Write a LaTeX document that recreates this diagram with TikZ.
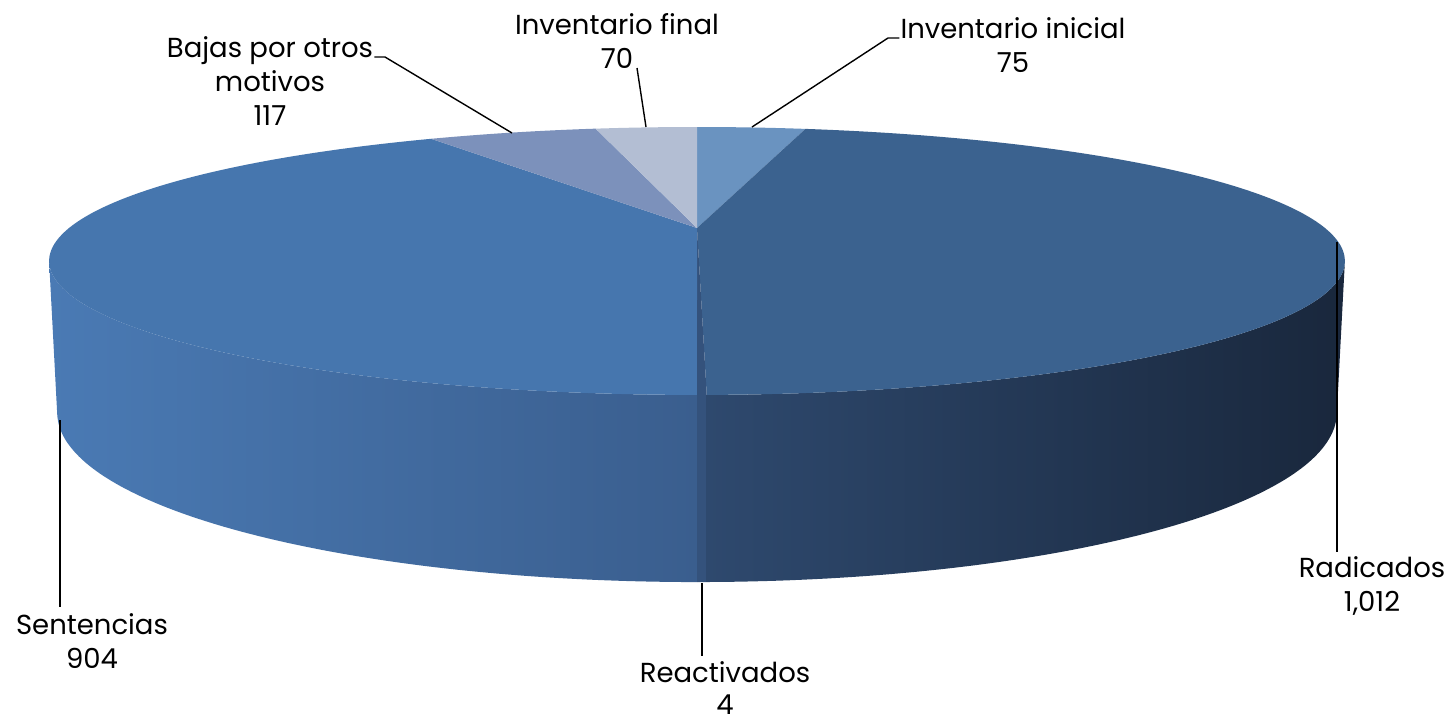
\documentclass[tikz,border=0pt]{standalone}
\usepackage{fontspec}
\setmainfont{Poppins}
\definecolor{cIni}{HTML}{6A93C0}
\definecolor{cRad}{HTML}{3B628F}
\definecolor{cSen}{HTML}{4676AE}
\definecolor{cBaj}{HTML}{7C91BB}
\definecolor{cFin}{HTML}{B3BED3}
\definecolor{cRadL}{HTML}{2E496E}
\definecolor{cRadR}{HTML}{19273C}
\definecolor{cSenL}{HTML}{4A7AB4}
\definecolor{cSenR}{HTML}{3A5E8E}
\definecolor{cRea}{HTML}{34527C}
\begin{document}
\begin{tikzpicture}[x=1pt,y=-1pt,
  declare function={
    tz(\a)=1+0.2460*sin(\a);
    bz(\a)=1.01188+0.2460*sin(\a);
    tx(\a)=697+628*cos(\a)/tz(\a);
    ty(\a)=228-125.85*sin(\a)/tz(\a);
    bx(\a)=697+628*cos(\a)/bz(\a);
    by(\a)=228+(145.3-125.85*sin(\a))/bz(\a);
  },
  lbl/.style={font=\fontsize{27.5}{34}\selectfont, align=center, anchor=base, inner sep=1pt, text=black},
  leader/.style={draw=black, line width=1.4pt}]
\useasboundingbox (0,0) rectangle (1455,724);
\fill[white] (0,0) rectangle (1455,724);
\coordinate (C) at (697,228);
% sides
\shade[left color=cSenL, right color=cSenR]
  plot[domain=-165.15:-90, samples=80, variable=\t] ({tx(\t)},{ty(\t)})
  -- plot[domain=-165.15:-90, samples=80, variable=\t] ({bx(-255.15-\t)},{by(-255.15-\t)}) -- cycle;
\fill[cRea]
  plot[domain=-90:-89.33, samples=3, variable=\t] ({tx(\t)},{ty(\t)})
  -- plot[domain=-90:-89.33, samples=3, variable=\t] ({bx(-179.33-\t)},{by(-179.33-\t)}) -- cycle;
\shade[left color=cRadL, right color=cRadR]
  plot[domain=-89.33:-14.85, samples=80, variable=\t] ({tx(\t)},{ty(\t)})
  -- plot[domain=-89.33:-14.85, samples=80, variable=\t] ({bx(-104.18-\t)},{by(-104.18-\t)}) -- cycle;
% tops
\fill[cIni] (C) -- plot[domain=77.63:90, samples=20, variable=\t] ({tx(\t)},{ty(\t)}) -- cycle;
\fill[cRad] (C) -- plot[domain=-89.33:77.63, samples=160, variable=\t] ({tx(\t)},{ty(\t)}) -- cycle;
\fill[cRea] (C) -- plot[domain=-90:-89.33, samples=3, variable=\t] ({tx(\t)},{ty(\t)}) -- cycle;
\fill[cSen] (C) -- plot[domain=-239.15:-90, samples=150, variable=\t] ({tx(\t)},{ty(\t)}) -- cycle;
\fill[cBaj] (C) -- plot[domain=101.56:120.85, samples=30, variable=\t] ({tx(\t)},{ty(\t)}) -- cycle;
\fill[cFin] (C) -- plot[domain=90:101.56, samples=20, variable=\t] ({tx(\t)},{ty(\t)}) -- cycle;
% labels (anchor = baseline of last line)
\node[lbl] (fin) at (617,68) {Inventario final\\70};
\node[lbl] (ini) at (1013,72) {Inventario inicial\\75};
\node[lbl] (baj) at (270,125) {Bajas por otros\\motivos\\117};
\node[lbl] (rad) at (1372,611) {Radicados\\1,012};
\node[lbl] (sen) at (92,668) {Sentencias\\904};
\node[lbl, font=\fontsize{27.5}{32}\selectfont] (rea) at (725,714) {Reactivados\\4};
% leaders
\coordinate (iniA) at (752,127); \coordinate (iniB) at (888,38);
\draw[leader] (iniA) -- (iniB) -- (iniB -| ini.west);
\coordinate (bajA) at (512,133); \coordinate (bajB) at (385,57);
\draw[leader] (bajA) -- (bajB) -- (bajB -| baj.east);
\coordinate (finA) at (646,127); \coordinate (finB) at (637,68);
\draw[leader] (finA) -- (finB);
\coordinate (radA) at (1337,242); \coordinate (radB) at (1337,552);
\draw[leader] (radA) -- (radB);
\coordinate (senA) at (60,420); \coordinate (senB) at (60,607);
\draw[leader] (senA) -- (senB);
\coordinate (reaA) at (702,583); \coordinate (reaB) at (702,656);
\draw[leader] (reaA) -- (reaB);
\end{tikzpicture}
\end{document}
